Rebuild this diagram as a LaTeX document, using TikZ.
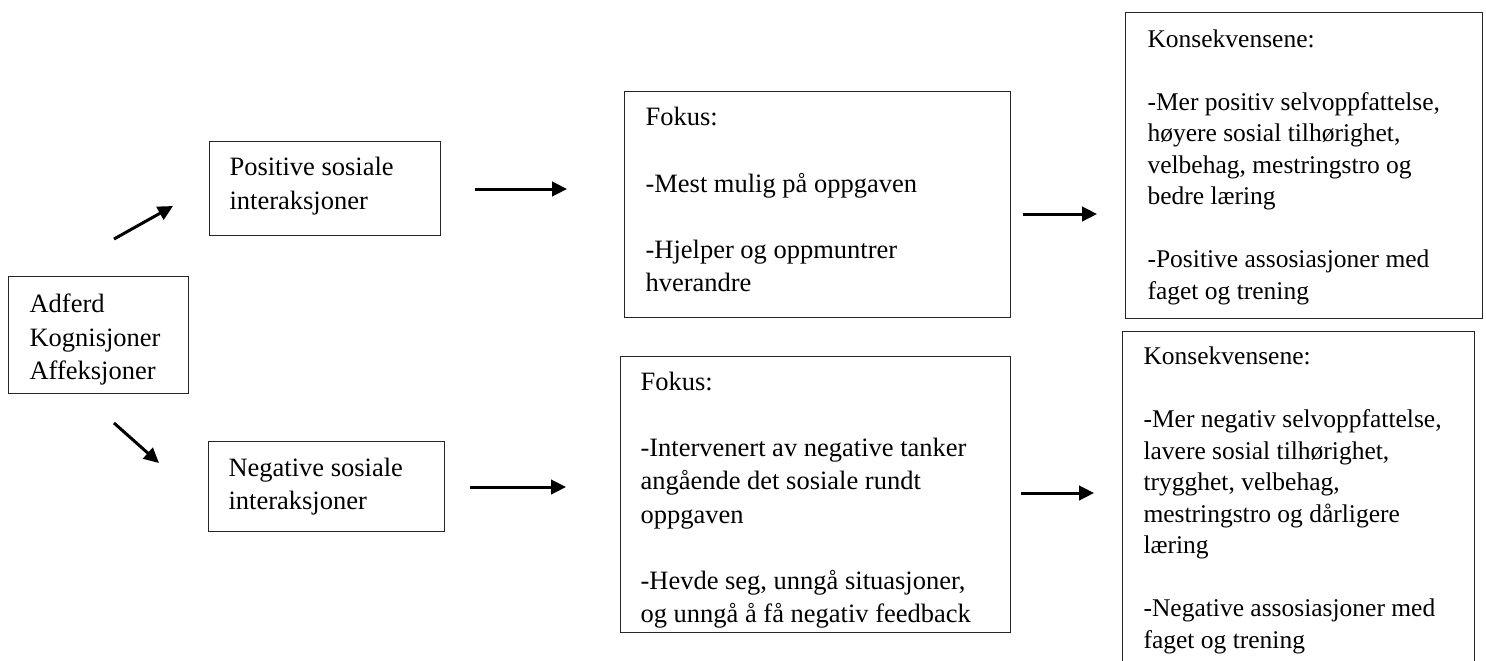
\documentclass[tikz,border=0pt]{standalone}
\usepackage{fontspec}
\setmainfont{Liberation Serif}
\usetikzlibrary{arrows.meta}
\newcommand{\boxtxt}[5]{\begin{minipage}[t][#2][t]{#1}\vspace*{#3}\raggedright\setlength{\leftskip}{#4}\strut #5\end{minipage}}
\tikzset{
  panel/.style={draw=black!85, line width=0.55pt, inner sep=0pt, anchor=north west},
  midfont/.style={font=\fontsize{13.25pt}{16.6pt}\selectfont},
  leftfont/.style={font=\fontsize{13.25pt}{16.8pt}\selectfont},
  rightfont/.style={font=\fontsize{12.75pt}{15.75pt}\selectfont},
  arr/.style={-{Triangle[length=7.5pt,width=7.2pt]}, line width=1.5pt}
}
\begin{document}
\begin{tikzpicture}[x=0.5pt,y=-0.5pt]
\useasboundingbox (0,0) rectangle (1486,660);
\clip (0,0) rectangle (1486,660);

% boxes (coordinates in pixels of the reference)
\node[panel, leftfont] (adf) at (8,276)
  {\boxtxt{90pt}{58.5pt}{6.2pt}{10.5pt}{Adferd\\Kognisjoner\\Affeksjoner}};
\node[panel, midfont] (pos) at (209,141)
  {\boxtxt{115.5pt}{47pt}{5.6pt}{10pt}{Positive sosiale\\interaksjoner}};
\node[panel, midfont] (neg) at (208,441)
  {\boxtxt{118pt}{45pt}{5.6pt}{10pt}{Negative sosiale\\interaksjoner}};
\node[panel, midfont] (fok1) at (624,91)
  {\boxtxt{193pt}{113pt}{5.45pt}{10.5pt}{Fokus:\\[\baselineskip]-Mest mulig på oppgaven\\[\baselineskip]-Hjelper og oppmuntrer\\hverandre}};
\node[panel, midfont] (fok2) at (620,356)
  {\boxtxt{195pt}{138pt}{5.2pt}{10pt}{Fokus:\\[\baselineskip]-Intervenert av negative tanker\\angående det sosiale rundt\\oppgaven\\[\baselineskip]-Hevde seg, unngå situasjoner,\\og unngå å få negativ feedback}};
\node[panel, rightfont] (kon1) at (1125,12)
  {\boxtxt{178.5pt}{153pt}{6.3pt}{11pt}{Konsekvensene:\\[\baselineskip]-Mer positiv selvoppfattelse,\\høyere sosial tilhørighet,\\velbehag, mestringstro og\\bedre læring\\[\baselineskip]-Positive assosiasjoner med\\faget og trening}};
\node[panel, rightfont] (kon2) at (1122,331)
  {\boxtxt{176pt}{175pt}{5.6pt}{10.5pt}{Konsekvensene:\\[\baselineskip]-Mer negativ selvoppfattelse,\\lavere sosial tilhørighet,\\trygghet, velbehag,\\mestringstro og dårligere\\læring\\[\baselineskip]-Negative assosiasjoner med\\faget og trening}};

% arrow end points
\coordinate (a1s) at (114,239);
\coordinate (a1e) at (173,206);
\coordinate (a2s) at (114,423);
\coordinate (a2e) at (159,463);
\coordinate (b1s) at (475,189);
\coordinate (b1e) at (567,189);
\coordinate (b2s) at (470,487);
\coordinate (b2e) at (566,487);
\coordinate (c1s) at (1023,214);
\coordinate (c1e) at (1097,214);
\coordinate (c2s) at (1021,493);
\coordinate (c2e) at (1094,493);

\draw[arr] (a1s) -- (a1e);
\draw[arr] (a2s) -- (a2e);
\draw[arr] (b1s) -- (b1e);
\draw[arr] (b2s) -- (b2e);
\draw[arr] (c1s) -- (c1e);
\draw[arr] (c2s) -- (c2e);
\end{tikzpicture}
\end{document}
